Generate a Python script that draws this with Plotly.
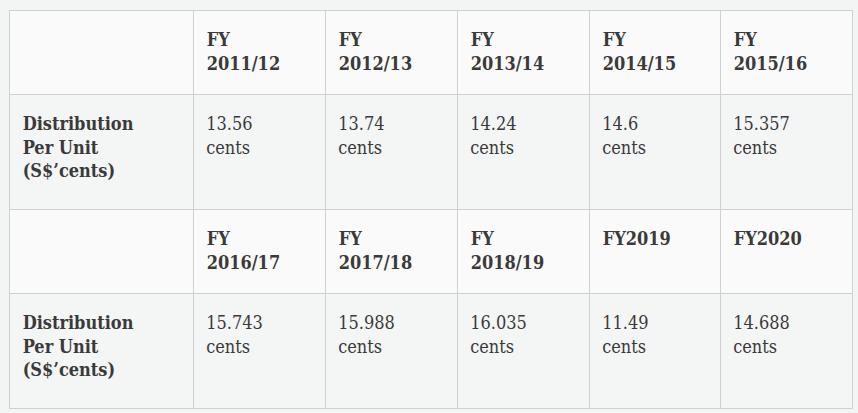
import plotly.graph_objects as go

periods_a = ["FY<br>2011/12", "FY<br>2012/13", "FY<br>2013/14", "FY<br>2014/15", "FY<br>2015/16"]
periods_b = ["FY<br>2016/17", "FY<br>2017/18", "FY<br>2018/19", "FY2019", "FY2020"]
dpu_a = ["13.56", "13.74", "14.24", "14.6", "15.357"]
dpu_b = ["15.743", "15.988", "16.035", "11.49", "14.688"]
row_label = "Distribution<br>Per Unit<br>(S$’cents)"
unit = "cents"

W, H = 858, 413
x0, x1 = 9, 852
rows_top = [10, 209]
head_h, cell_h = 84, 115
col_w = [184, 132, 132, 132, 131, 132]

font = dict(family="DejaVu Serif Condensed, DejaVu Serif", size=18, color="#3a3a3a")
pad = "<span style='font-size:5px'> </span><br>"
indent = "\u00a0"


def fmt(text, bold=False):
    lines = [indent + s for s in text.split("<br>")]
    if bold:
        lines = ["<b>%s</b>" % s for s in lines]
    return pad + "<br>".join(lines)


def make_table(periods, values, top):
    # leave a couple of spare pixels so the bottom border is not clipped
    bottom = top + head_h + cell_h + 2
    return go.Table(
        domain=dict(x=[x0 / W, x1 / W], y=[(H - bottom) / H, (H - top) / H]),
        columnwidth=col_w,
        header=dict(
            values=[""] + [fmt(p, bold=True) for p in periods],
            align="left",
            height=head_h,
            fill_color="#fafafa",
            line_color="#d0d0d0",
            line_width=1,
            font=font,
        ),
        cells=dict(
            values=[[fmt(row_label, bold=True)]] + [[fmt("%s<br>%s" % (v, unit))] for v in values],
            align="left",
            height=cell_h,
            fill_color="#f4f5f5",
            line_color="#d0d0d0",
            line_width=1,
            font=font,
        ),
    )


fig = go.Figure()
fig.add_trace(make_table(periods_b, dpu_b, rows_top[1]))
fig.add_trace(make_table(periods_a, dpu_a, rows_top[0]))

fig.update_layout(
    width=W,
    height=H,
    margin=dict(l=0, r=0, t=0, b=0),
    paper_bgcolor="#f3f4f4",
)
fig.write_html(
    "out.html",
    config={"displayModeBar": False},
    post_script="document.body.style.margin='0px';document.body.style.background='#f3f4f4';",
)
